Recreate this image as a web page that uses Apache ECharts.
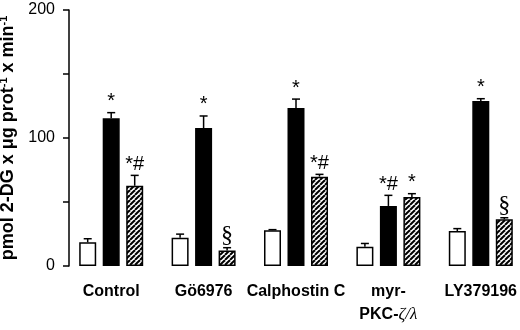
<!DOCTYPE html>
<html>
<head>
<meta charset="utf-8">
<script src="https://cdn.jsdelivr.net/npm/echarts@6/dist/echarts.min.js"></script>
<style>
  html, body { margin: 0; padding: 0; background: #fff; }
  #chart { width: 520px; height: 330px; }
</style>
</head>
<body>
<div id="chart"></div>
<script>
// values
const categories = ['Control', 'Gö6976', 'Calphostin C', 'myr-\nPKC-ζ/λ', 'LY379196'];
const basal = [18.5, 22, 28, 15, 27.3];
const basalErr = [2.8, 2.9, 0.4, 2.6, 1.9];
const basalNotes = ['', '', '', '', ''];
const stimulated = [115.4, 107.8, 123.4, 46.9, 128.9];
const stimulatedErr = [4.4, 9.4, 7, 8.3, 1.8];
const stimulatedNotes = ['*', '*', '*', '*#', '*'];
const treated = [62.7, 12.2, 69.8, 53.9, 36.5];
const treatedErr = [8.1, 2.1, 1.8, 2.6, 1.2];
const treatedNotes = ['*#', '§', '*#', '*', '§'];
const yLabels = [0, 100, 200];

const sansFont = "'Liberation Sans', Arial, sans-serif";
const serifFont = "'Liberation Serif', 'DejaVu Serif', serif";

const barWidth = 17;
const barGap = 6.5;

// diagonal hatch fill
const makeHatch = () => {
  const s = 5;
  const c = document.createElement('canvas');
  c.width = s;
  c.height = s;
  const ctx = c.getContext('2d');
  ctx.fillStyle = '#fff';
  ctx.fillRect(0, 0, s, s);
  ctx.strokeStyle = '#000';
  ctx.lineWidth = 2;
  for (let k = -1; k <= 1; k++) {
    ctx.beginPath();
    ctx.moveTo(k * s, s);
    ctx.lineTo(k * s + s, 0);
    ctx.stroke();
  }
  return c;
};

const barSeries = (data, color) => ({
  type: 'bar',
  data: data,
  barWidth: barWidth,
  barGap: (barGap / barWidth) * 100 + '%',
  itemStyle: { color: color, borderColor: '#000', borderWidth: 1.5 },
  emphasis: { disabled: true },
  silent: true,
  z: 2,
});

// error bar (upper only) + significance mark
const errorSeries = (values, errs, notes, slot) => ({
  type: 'custom',
  silent: true,
  z: 3,
  data: values.map((v, i) => [i, v, errs[i]]),
  renderItem: (params, api) => {
    const i = api.value(0);
    const base = api.coord([i, api.value(1)]);
    const top = api.coord([i, api.value(1) + api.value(2)]);
    const x = base[0] + slot * (barWidth + barGap);
    const note = notes[params.dataIndex];
    const children = [
      {
        type: 'line',
        shape: { x1: x, y1: base[1], x2: x, y2: top[1] },
        style: { stroke: '#000', lineWidth: 1.5 },
      },
      {
        type: 'line',
        shape: { x1: x - 4, y1: top[1], x2: x + 4, y2: top[1] },
        style: { stroke: '#000', lineWidth: 1.5 },
      },
    ];
    if (note) {
      const isSect = note === '§';
      children.push({
        type: 'text',
        x: x,
        y: isSect ? top[1] : top[1] - 1,
        style: {
          text: note,
          fill: '#000',
          font: isSect ? '24px ' + serifFont : '20px ' + sansFont,
          align: 'center',
          verticalAlign: 'bottom',
        },
      });
    }
    return { type: 'group', children: children };
  },
});

const chart = echarts.init(document.getElementById('chart'));

chart.setOption({
  animation: false,
  backgroundColor: '#fff',
  grid: {
    left: 65,
    right: -7,
    top: 10,
    bottom: 64,
    containLabel: false,
    outerBoundsMode: 'none',
  },
  xAxis: {
    type: 'category',
    data: categories,
    axisLine: { show: false },
    axisTick: { show: false },
    axisLabel: {
      interval: 0,
      margin: 14,
      color: '#000',
      fontFamily: sansFont,
      fontWeight: 'bold',
      fontSize: 16,
      lineHeight: 23,
      formatter: (v) => v.replace('ζ/λ', '{g|ζ/λ}'),
      rich: {
        g: {
          fontFamily: serifFont,
          fontStyle: 'italic',
          fontWeight: 'normal',
          fontSize: 17,
          lineHeight: 23,
          color: '#000',
        },
      },
    },
  },
  yAxis: {
    type: 'value',
    min: 0,
    max: 200,
    interval: 50,
    offset: -4,
    splitLine: { show: false },
    axisLine: { show: true, lineStyle: { color: '#000', width: 1.5 } },
    axisTick: { show: true, length: 6, lineStyle: { color: '#000', width: 1.5 } },
    axisLabel: {
      margin: 14,
      color: '#000',
      fontFamily: sansFont,
      fontSize: 16,
      formatter: (v) => (yLabels.includes(v) ? String(v) : ''),
    },
    name: '{b|pmol 2-DG x μg prot}{s|-1}{b| x min}{s|-1}',
    nameLocation: 'middle',
    nameGap: 41,
    nameTextStyle: {
      rich: {
        b: { fontFamily: sansFont, fontWeight: 'bold', fontSize: 18, color: '#000', lineHeight: 20 },
        s: { fontFamily: sansFont, fontWeight: 'bold', fontSize: 11, color: '#000', verticalAlign: 'top', lineHeight: 20 },
      },
    },
  },
  series: [
    barSeries(basal, '#fff'),
    barSeries(stimulated, '#000'),
    barSeries(treated, { image: makeHatch(), repeat: 'repeat' }),
    errorSeries(basal, basalErr, basalNotes, -1),
    errorSeries(stimulated, stimulatedErr, stimulatedNotes, 0),
    errorSeries(treated, treatedErr, treatedNotes, 1),
  ],
});
</script>
</body>
</html>
